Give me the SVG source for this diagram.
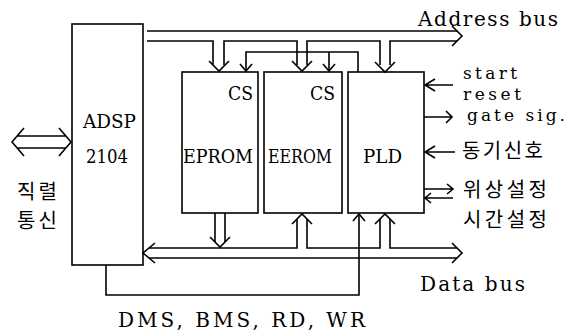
<svg xmlns="http://www.w3.org/2000/svg" width="577" height="331" viewBox="0 0 577 331">
<style>
.box{fill:none;stroke:#000;stroke-width:1.6}
.ln{fill:none;stroke:#000;stroke-width:1.6;stroke-linejoin:miter}
.t{font-family:"DejaVu Serif","Liberation Serif",serif;font-size:18px;fill:#000}
.b{font-size:20px}
.s{font-size:17px}
.k{font-family:"Noto Sans CJK KR",sans-serif;font-size:20px;fill:#000}
</style>
<rect width="577" height="331" fill="#fff"/>
<g id="adsp">
<rect class="box" x="72" y="24" width="71" height="241"/>
<text class="t" x="83" y="128" textLength="53" lengthAdjust="spacingAndGlyphs">ADSP</text>
<text class="t" x="86" y="163" textLength="42" lengthAdjust="spacingAndGlyphs">2104</text>
</g>
<g id="eprom">
<rect class="box" x="182" y="72" width="76" height="141"/>
<text class="t" x="228" y="100" textLength="25" lengthAdjust="spacingAndGlyphs">CS</text>
<text class="t" x="183" y="163" textLength="70" lengthAdjust="spacingAndGlyphs">EPROM</text>
</g>
<g id="eerom">
<rect class="box" x="264" y="72" width="78" height="141"/>
<text class="t" x="310" y="100" textLength="25" lengthAdjust="spacingAndGlyphs">CS</text>
<text class="t" x="268" y="163" textLength="64" lengthAdjust="spacingAndGlyphs">EEROM</text>
</g>
<g id="pld">
<rect class="box" x="348" y="72" width="76" height="141"/>
<text class="t" x="363" y="163" textLength="39" lengthAdjust="spacingAndGlyphs">PLD</text>
</g>
<g id="labels">
<text class="t b" x="418" y="26" textLength="140" lengthAdjust="spacing">Address bus</text>
<text class="t s" x="463" y="79" textLength="54" lengthAdjust="spacing">start</text>
<text class="t s" x="463" y="100" textLength="58" lengthAdjust="spacing">reset</text>
<text class="t s" x="467" y="121" textLength="98" lengthAdjust="spacing">gate sig.</text>
<text class="k" x="462" y="158" textLength="81" lengthAdjust="spacing">동기신호</text>
<text class="k" x="463" y="197" textLength="84" lengthAdjust="spacing">위상설정</text>
<text class="k" x="463" y="227" textLength="84" lengthAdjust="spacing">시간설정</text>
<text class="k" x="17" y="199" textLength="40" lengthAdjust="spacing">직렬</text>
<text class="k" x="17" y="228" textLength="40" lengthAdjust="spacing">통신</text>
<text class="t b" x="420" y="291" textLength="105" lengthAdjust="spacing">Data bus</text>
<text class="t b" x="118" y="327" textLength="247" lengthAdjust="spacing">DMS, BMS, RD, WR</text>
</g>
<g id="connectors">
<path class="ln" d="M17 136H66M17 148H66M24 128L12 142L24 156M59 128L71 142L59 156"/>
<path class="ln" d="M147 31H457"/>
<path class="ln" d="M147 41H213V65M224 65V41H297V65M307 65V41H380V65M390 65V41H457"/>
<path class="ln" d="M452 26L462 36L452 46"/>
<path class="ln" d="M209 61L219 71L229 61M292 61L302 71L312 61M375 62L385 72L395 62"/>
<path class="ln" d="M358 72V52H246V71M329 52V71"/>
<path class="ln" d="M240 64L246 71L252 64M323 64L329 71L335 64"/>
<path class="ln" d="M149 258H457"/>
<path class="ln" d="M149 248H297V219M307 219V248H380V219M390 219V248H457"/>
<path class="ln" d="M155 243L143 253L155 263M452 243L462 253L452 263"/>
<path class="ln" d="M215 213V242M225 213V242M210 237L220 247L230 237"/>
<path class="ln" d="M292 224L302 214L312 224M375 224L385 214L395 224"/>
<path class="ln" d="M106 265V295H359V214"/>
<path class="ln" d="M353 221L359 214L365 221"/>
<path class="ln" d="M453 85H425M435 79L425 85L435 91"/>
<path class="ln" d="M424 117H452M446 111L452 117L446 123"/>
<path class="ln" d="M455 152H425M435 146L425 152L435 158"/>
<path class="ln" d="M424 189H453M447 184L453 189L447 194"/>
<path class="ln" d="M453 198H425M431 193L425 198L431 203"/>
</g>
</svg>
